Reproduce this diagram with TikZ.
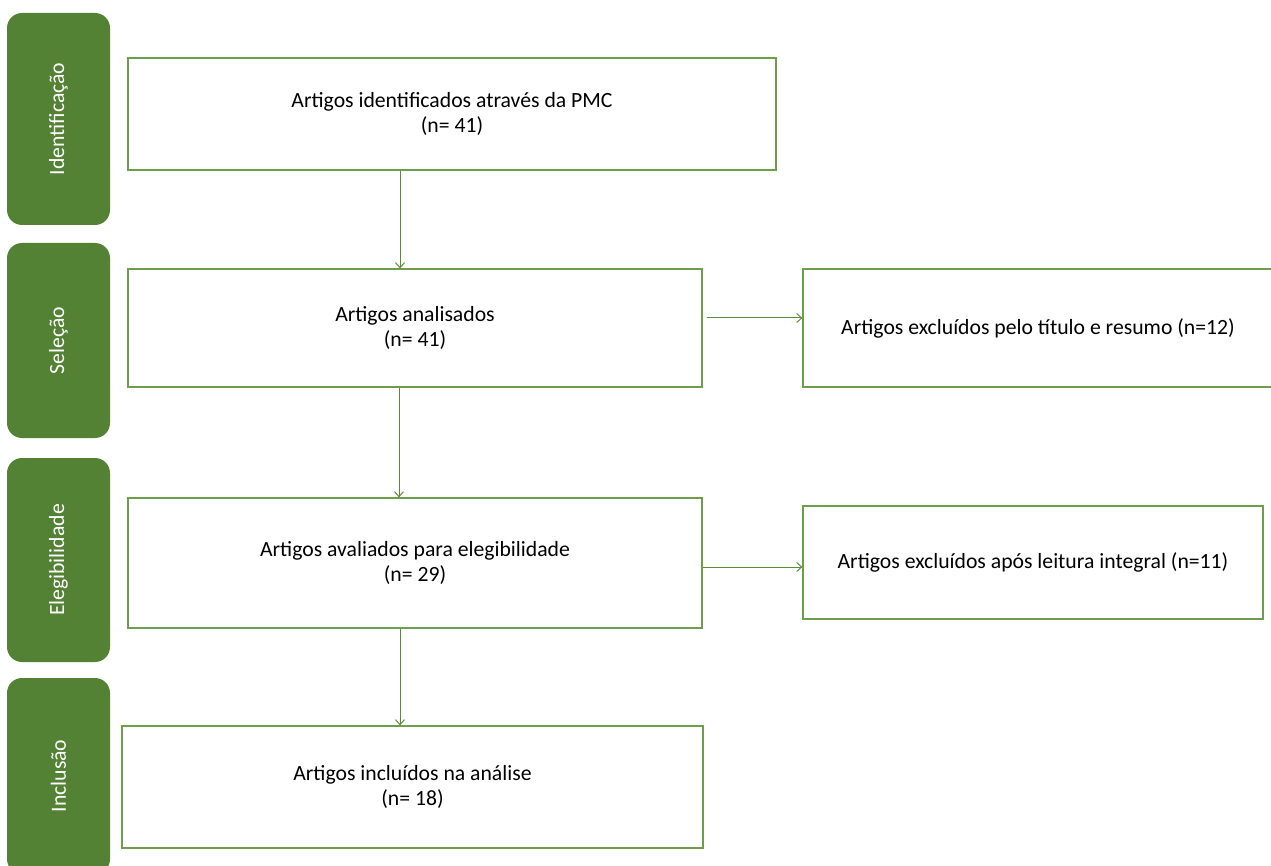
\documentclass[tikz,border=0pt]{standalone}
\usepackage{fontspec}
\setmainfont{Carlito}
\usetikzlibrary{arrows.meta}
\definecolor{tabgreen}{HTML}{548235}
\definecolor{boxgreen}{HTML}{6E9E4C}
\definecolor{arrgreen}{HTML}{5A8C38}
\begin{document}
\begin{tikzpicture}[x=1pt,y=-1pt,
  every node/.style={font=\fontsize{21.7}{25.5}\selectfont, inner sep=0pt},
  tabbox/.style={fill=tabgreen, draw=none, rounded corners=15pt, rotate=90, text=white, minimum height=103pt},
  flowbox/.style={draw=boxgreen, line width=1.2pt, fill=white, align=center},
  arr/.style={draw=arrgreen, line width=1pt, -{Straight Barb[length=5pt,width=9pt,line width=1pt]}}
]
\useasboundingbox (0,0) rectangle (1271,866);
\clip (0,0) rectangle (1271,866);
% side tabs
\node[tabbox, minimum width=212pt] (t1) at (58.5,119) {Identificação};
\node[tabbox, minimum width=195pt] (t2) at (58.5,340.5) {Seleção};
\node[tabbox, minimum width=204pt] (t3) at (58.5,560) {Elegibilidade};
\node[tabbox, minimum width=196pt] (t4) at (58.5,776) {Inclusão};
% main boxes
\node[flowbox, minimum width=648pt, minimum height=112pt] (b1) at (452,114) {Artigos identificados através da PMC\\(n= 41)};
\node[flowbox, minimum width=574pt, minimum height=118pt] (b2) at (415,328) {Artigos analisados\\(n= 41)};
\node[flowbox, minimum width=574pt, minimum height=130pt] (b3) at (415,563) {Artigos avaliados para elegibilidade\\(n= 29)};
\node[flowbox, minimum width=581pt, minimum height=122pt] (b4) at (412.5,787) {Artigos incluídos na análise\\(n= 18)};
% exclusion boxes
\node[flowbox, minimum width=470pt, minimum height=118pt] (r1) at (1038,328) {Artigos excluídos pelo título e resumo (n=12)};
\node[flowbox, minimum width=460pt, minimum height=113pt] (r2) at (1033,562.5) {Artigos excluídos após leitura integral (n=11)};
% helper coordinates
\coordinate (ax1) at (400,0);
\coordinate (ax2) at (399,0);
\coordinate (ay1) at (0,318);
\coordinate (ay2) at (0,567);
% connectors
\draw[arr] (b1.south -| ax1) -- (b2.north -| ax1);
\draw[arr] (b2.south -| ax2) -- (b3.north -| ax2);
\draw[arr] (b3.south -| ax1) -- (b4.north -| ax1);
\draw[arr, shorten <=4pt] (b2.east |- ay1) -- (r1.west |- ay1);
\draw[arr] (b3.east |- ay2) -- (r2.west |- ay2);
\end{tikzpicture}
\end{document}
